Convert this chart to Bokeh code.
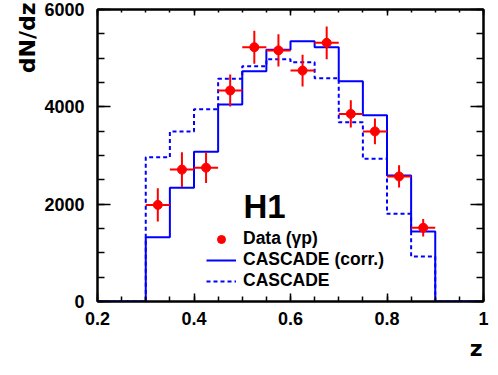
import math
from bokeh.plotting import figure
from bokeh.models import (LinearAxis, FixedTicker, Range1d, Label, Legend,
                          LegendItem, ColumnDataSource, Title)
from bokeh.embed import file_html
from bokeh.resources import INLINE

# ---- data ----
bin_lo = [0.30, 0.35, 0.40, 0.45, 0.50, 0.55, 0.60, 0.65, 0.70, 0.75, 0.80, 0.85]
bin_width = 0.05
data_y = [1985, 2710, 2750, 4335, 5225, 5160, 4745, 5315, 3855, 3495, 2570, 1515]
data_err = [340, 355, 315, 330, 340, 330, 325, 335, 280, 265, 230, 180]
cascade_corr = [1322, 2336, 3075, 4048, 4733, 5171, 5349, 5226, 4527, 3829, 2589, 1438]
cascade = [2966, 3493, 3952, 4575, 4836, 4979, 4918, 4589, 3685, 2932, 1801, 925]
x_ticks = [0.2, 0.4, 0.6, 0.8, 1.0]
x_tick_labels = {0.2: "0.2", 0.4: "0.4", 0.6: "0.6", 0.8: "0.8", 1.0: "1"}
y_ticks = [0, 2000, 4000, 6000]
x_min, x_max = 0.2, 1.0
y_min, y_max = 0, 6000

FONT = "Liberation Sans"
RED = "#ff0000"
BLUE = "#0000ff"

centers = [lo + bin_width / 2 for lo in bin_lo]
src = ColumnDataSource(dict(
    x=centers, y=data_y,
    x0=[lo for lo in bin_lo], x1=[lo + bin_width for lo in bin_lo],
    y0=[v - e for v, e in zip(data_y, data_err)],
    y1=[v + e for v, e in zip(data_y, data_err)],
))

edges = [x_min] + bin_lo + [bin_lo[-1] + bin_width, x_max]
corr_steps = [0] + cascade_corr + [0, 0]
casc_steps = [0] + cascade + [0, 0]

p = figure(width=490, height=367, output_backend="svg", toolbar_location=None,
           x_range=Range1d(x_min, x_max), y_range=Range1d(y_min, y_max),
           min_border_left=97, min_border_right=7, min_border_top=9,
           min_border_bottom=66, x_axis_location=None, y_axis_location=None)
p.xgrid.visible = False
p.ygrid.visible = False
p.outline_line_color = "black"
p.outline_line_width = 2
p.background_fill_color = "white"
p.border_fill_color = "white"

minor_x = [round(x_min + i * 0.05, 4) for i in range(int(round((x_max - x_min) / 0.05)) + 1)]
minor_y = list(range(0, 6001, 500))


def make_axis(ticks, minor, tin, min_in, labels=True, overrides=None, standoff=10):
    ax = LinearAxis(ticker=FixedTicker(ticks=ticks, minor_ticks=minor))
    ax.axis_line_color = "black"
    ax.axis_line_width = 2
    ax.major_tick_in = tin
    ax.major_tick_out = 0
    ax.minor_tick_in = min_in
    ax.minor_tick_out = 0
    ax.major_tick_line_width = 1.5
    ax.minor_tick_line_width = 1.5
    ax.major_tick_line_color = "black"
    ax.minor_tick_line_color = "black"
    if labels:
        ax.major_label_text_font = FONT
        ax.major_label_text_font_style = "bold"
        ax.major_label_text_font_size = "18px"
        ax.major_label_text_color = "black"
        ax.major_label_standoff = standoff
        if overrides:
            ax.major_label_overrides = overrides
    else:
        ax.major_label_text_font_size = "0px"
        ax.major_label_standoff = 0
        ax.major_label_text_alpha = 0
    return ax


p.add_layout(make_axis(x_ticks, minor_x, 8, 5, True, x_tick_labels, 10), "below")
p.add_layout(make_axis(y_ticks, minor_y, 13, 7, True, None, 13), "left")
p.add_layout(make_axis(x_ticks, minor_x, 6, 3, False), "above")
p.add_layout(make_axis(y_ticks, minor_y, 13, 7, False), "right")

p.add_layout(Title(text="z", align="right", offset=1, standoff=13,
                   text_font="DejaVu Sans", text_font_style="bold",
                   text_font_size="22px", text_color="black"), "below")
p.add_layout(Title(text="dN/dz", align="right", offset=-7, standoff=4,
                   text_font="DejaVu Sans", text_font_style="bold",
                   text_font_size="22px", text_color="black"), "left")

r_corr = p.step(edges, corr_steps, mode="after", line_color=BLUE, line_width=2)
r_casc = p.step(edges, casc_steps, mode="after", line_color=BLUE, line_width=2,
                line_dash="4 3")

p.segment(x0="x0", y0="y", x1="x1", y1="y", source=src, line_color=RED, line_width=2)
p.segment(x0="x", y0="y0", x1="x", y1="y1", source=src, line_color=RED, line_width=2)
r_data = p.scatter(x="x", y="y", source=src, marker="circle", size=9,
                   fill_color=RED, line_color=RED)

legend = Legend(items=[
    LegendItem(label="Data (γp)", renderers=[r_data]),
    LegendItem(label="CASCADE (corr.)", renderers=[r_corr]),
    LegendItem(label="CASCADE", renderers=[r_casc]),
], location=(109, 10), padding=0, margin=0, spacing=0,
    glyph_width=30, glyph_height=20, label_height=20, label_standoff=7,
    label_text_font=FONT, label_text_font_style="bold",
    label_text_font_size="17.5px", label_text_color="black",
    background_fill_alpha=0, border_line_alpha=0)
p.add_layout(legend, "center")

p.add_layout(Label(x=146, y=95, x_units="screen", y_units="screen", text="H1",
                   text_font=FONT, text_font_style="bold", text_font_size="33px",
                   text_color="black", text_baseline="alphabetic"))

open("out.html", "w").write(file_html(p, INLINE))
